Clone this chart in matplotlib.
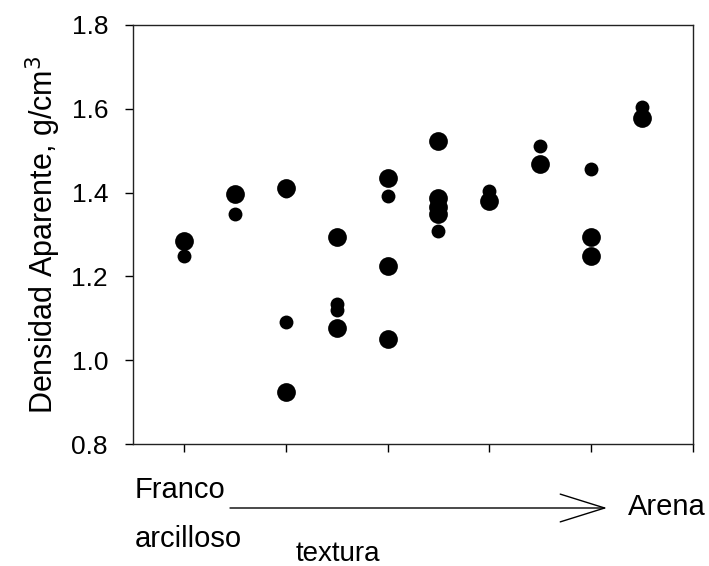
import numpy as np
import matplotlib
matplotlib.use("Agg")
import matplotlib.pyplot as plt

plt.rcParams['font.family'] = ['Liberation Sans', 'DejaVu Sans']

# texture classes along x (1 = franco arcilloso ... 5.5 = arena)
x_large = [1, 1.5, 2, 2, 2.5, 2.5, 3, 3, 3, 3.5, 3.5, 3.5, 3.5, 4, 4.5, 5, 5, 5.5]
y_large = [1.284, 1.397, 1.411, 0.924, 1.294, 1.077, 1.435, 1.225, 1.051,
           1.523, 1.388, 1.366, 1.350, 1.380, 1.468, 1.294, 1.249, 1.578]

x_small = [1, 1.5, 2, 2, 2.5, 2.5, 3, 3.5, 4, 4.5, 5, 5.5]
y_small = [1.249, 1.349, 1.405, 1.091, 1.135, 1.120, 1.392, 1.308, 1.404, 1.511, 1.456, 1.604]

yticks = [0.8, 1.0, 1.2, 1.4, 1.6, 1.8]
xticks = [1, 2, 3, 4, 5, 6]

W, H = 709, 566
fig = plt.figure(figsize=(W / 100, H / 100), dpi=100)
ax = fig.add_axes([133 / W, 1 - 444 / H, (693 - 133) / W, (444 - 25) / H])

ax.plot(x_large, y_large, 'o', color='black', markersize=13.5, markeredgewidth=0)
ax.plot(x_small, y_small, 'o', color='black', markersize=10, markeredgewidth=0)

ax.set_xlim(0.5, 6)
ax.set_ylim(0.8, 1.8)
ax.set_yticks(yticks)
ax.set_yticklabels(['%.1f' % v for v in yticks])
ax.set_xticks(xticks)
ax.set_xticklabels([])
ax.tick_params(axis='both', direction='out', length=6, width=1, labelsize=19, colors='black')
ax.tick_params(axis='y', pad=12)
for s in ax.spines.values():
    s.set_linewidth(1)
    s.set_color('#222222')

ax.set_ylabel('Densidad Aparente, g/cm$^3$', fontsize=22, labelpad=6)

def fx(px):
    return px / W

def fy(py):
    return 1 - py / H

fig.text(fx(135), fy(498), 'Franco', fontsize=21, ha='left', va='baseline')
fig.text(fx(135), fy(547), 'arcilloso', fontsize=21, ha='left', va='baseline')
fig.text(fx(338), fy(561), 'textura', fontsize=20, ha='center', va='baseline')
fig.text(fx(628), fy(515), 'Arena', fontsize=21, ha='left', va='baseline')

fig.add_artist(matplotlib.patches.FancyArrowPatch(
    (fx(230), fy(508)), (fx(607), fy(508)), transform=fig.transFigure,
    arrowstyle='->, head_length=3.2, head_width=1.0', mutation_scale=10,
    shrinkA=0, shrinkB=0, color='black', linewidth=1))

fig.savefig('out.png', dpi=100)
